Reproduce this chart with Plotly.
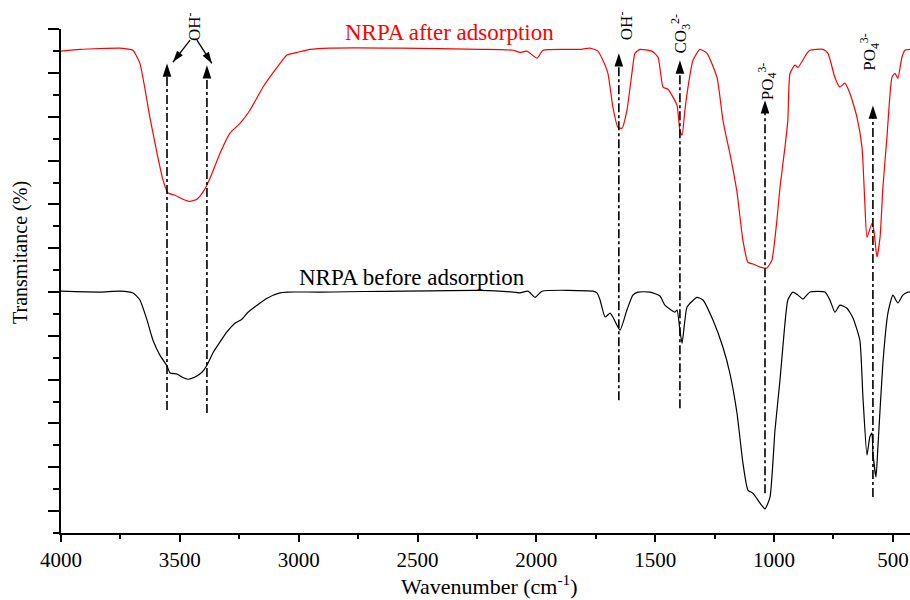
import plotly.graph_objects as go

# ---------------- data ----------------
wn_after = [4000, 3920, 3836, 3752, 3710, 3697, 3668, 3626, 3596, 3571, 3550, 3520, 3487, 3457, 3428,
            3403, 3373, 3331, 3289, 3247, 3205, 3150, 3091, 3049, 3007, 2952, 2868, 2574, 2237, 2098,
            2069, 2040, 1997, 1972, 1817, 1775, 1741, 1720, 1699, 1678, 1657, 1640, 1619, 1598, 1585,
            1564, 1514, 1488, 1467, 1446, 1425, 1408, 1396, 1387, 1375, 1362, 1341, 1312, 1282, 1240,
            1215, 1198, 1186, 1156, 1131, 1110, 1089, 1059, 1030, 1009, 988, 975, 954, 942, 933,
            912, 899, 862, 849, 794, 773, 744, 723, 702, 681, 651, 630, 618, 609, 588,
            580, 567, 554, 542, 525, 504, 491, 479, 462, 449, 428]
t_after = [110.0, 110.4, 110.6, 110.7, 110.4, 110.2, 107.2, 94.9, 86.7, 80.6, 77.6, 77.1, 76.2, 75.7, 76.2,
           77.8, 81.0, 86.7, 91.3, 93.5, 96.5, 101.8, 106.3, 109.1, 109.7, 110.4, 110.7, 110.7, 110.4, 110.2,
           109.7, 110.0, 108.4, 110.2, 110.4, 110.7, 110.0, 107.9, 104.9, 97.2, 92.6, 92.4, 96.5, 104.9, 109.5,
           110.4, 110.0, 108.6, 101.8, 101.3, 99.5, 97.6, 91.9, 90.8, 96.5, 101.8, 107.9, 110.4, 109.5, 104.0,
           94.2, 89.7, 86.7, 77.8, 66.8, 61.8, 61.4, 60.7, 60.5, 62.3, 71.4, 78.9, 88.1, 94.2, 104.9,
           106.8, 106.3, 109.5, 110.2, 110.4, 109.5, 104.0, 101.8, 102.7, 100.4, 94.9, 88.1, 75.3, 67.5, 70.7,
           69.1, 63.0, 67.5, 78.9, 90.3, 104.0, 104.9, 103.8, 108.6, 110.2, 110.4]

wn_before = [4000, 3836, 3752, 3697, 3668, 3638, 3613, 3584, 3554, 3541, 3512, 3491, 3466, 3436, 3407,
             3386, 3361, 3331, 3302, 3268, 3239, 3213, 3175, 3133, 3079, 3049, 2910, 2237, 2098, 2069,
             2035, 2006, 1976, 1762, 1745, 1732, 1711, 1690, 1678, 1648, 1619, 1594, 1573, 1522, 1480,
             1459, 1417, 1408, 1396, 1387, 1375, 1366, 1324, 1299, 1257, 1215, 1186, 1156, 1131, 1110,
             1089, 1059, 1038, 1017, 996, 975, 963, 942, 921, 899, 878, 849, 786, 765, 744,
             723, 693, 668, 639, 626, 609, 597, 588, 584, 571, 563, 542, 521, 500, 479,
             458, 437, 428]
t_before = [55.2, 55.0, 55.2, 54.8, 53.2, 48.6, 44.0, 40.6, 38.1, 36.5, 36.3, 35.6, 35.1, 35.6, 36.7,
            38.3, 41.1, 43.6, 45.9, 47.9, 48.8, 50.4, 52.0, 53.6, 54.8, 55.0, 55.0, 55.4, 55.0, 54.8,
            55.2, 53.8, 55.2, 55.2, 54.8, 53.2, 49.3, 50.2, 49.3, 46.3, 50.9, 54.3, 55.0, 55.0, 54.1,
            52.0, 50.4, 50.9, 46.3, 43.3, 48.6, 51.6, 53.8, 53.2, 48.6, 42.4, 36.5, 27.4, 16.0, 9.8,
            9.1, 6.8, 5.5, 8.2, 23.5, 34.9, 42.4, 53.2, 55.0, 54.3, 53.4, 55.0, 55.0, 53.2, 50.4,
            52.0, 51.3, 49.1, 44.0, 31.0, 17.8, 21.9, 22.8, 18.3, 12.8, 19.6, 38.8, 50.2, 54.3, 52.5,
            54.3, 55.0, 55.0]

x_tick_vals = [4000, 3500, 3000, 2500, 2000, 1500, 1000, 500]
x_tick_text = ["4000", "3500", "3000", "2500", "2000", "1500", "1000", "500"]

series_names = ["NRPA after adsorption", "NRPA before adsorption"]
series_label_wn = [2364, 2523]
series_label_t = [114.3, 58.4]

# band guide lines (dash-dot with arrow at the top)
band_wn = [3554, 3386, 1653, 1396, 1038, 584]
band_top = [107.2, 106.8, 109.5, 107.9, 98.8, 97.6]
band_bottom = [28.1, 27.4, 30.3, 28.5, 9.1, 8.2]

# band labels
band_label_text = ["OH<sup>-</sup>", "OH<sup>-</sup>", "CO<sub>3</sub><sup>2-</sup>",
                   "PO<sub>4</sub><sup>3-</sup>", "PO<sub>4</sub><sup>3-</sup>"]
band_label_wn = [3445, 1627, 1392, 1030, 597]
band_label_t = [115.7, 115.7, 114.0, 103.1, 109.8]

# the two diagonal arrows from the OH- label (tail -> head)
oh_tail_wn = [3457, 3428]
oh_tail_t = [112.5, 112.5]
oh_head_wn = [3529, 3365]
oh_head_t = [107.5, 107.2]
oh_head_angle = [218, 147]

Y_MAX = 115.05
FONT = "Liberation Serif, Times New Roman, serif"

fig = go.Figure()
fig.add_trace(go.Scatter(x=wn_after, y=t_after, mode="lines",
                         line=dict(color="#ff0000", width=1.2, shape="spline", smoothing=0.5),
                         name=series_names[0], hoverinfo="skip"))
fig.add_trace(go.Scatter(x=wn_before, y=t_before, mode="lines",
                         line=dict(color="#000000", width=1.2, shape="spline", smoothing=0.5),
                         name=series_names[1], hoverinfo="skip"))

shapes = []
for w, top, bot in zip(band_wn, band_top, band_bottom):
    shapes.append(dict(type="line", xref="x", yref="y", x0=w, x1=w, y0=bot, y1=top - 1.5,
                       line=dict(color="black", width=1.6, dash="dashdot")))
for tw, tt, hw, ht in zip(oh_tail_wn, oh_tail_t, oh_head_wn, oh_head_t):
    shapes.append(dict(type="line", xref="x", yref="y", x0=tw, x1=hw, y0=tt, y1=ht,
                       line=dict(color="black", width=1.3)))

# arrow heads
fig.add_trace(go.Scatter(x=band_wn, y=band_top, mode="markers", hoverinfo="skip",
                         marker=dict(symbol="arrow", size=14, angle=0, color="black",
                                     line=dict(width=0))))
fig.add_trace(go.Scatter(x=oh_head_wn, y=oh_head_t, mode="markers", hoverinfo="skip",
                         marker=dict(symbol="arrow", size=12, angle=oh_head_angle, color="black",
                                     line=dict(width=0))))

annotations = []
for txt, w, t in zip(band_label_text, band_label_wn, band_label_t):
    annotations.append(dict(x=w, y=t / Y_MAX, xref="x", yref="paper", text=txt, showarrow=False,
                            textangle=-90, font=dict(family=FONT, size=17, color="black"),
                            xanchor="center", yanchor="middle"))

for name, w, t, col in zip(series_names, series_label_wn, series_label_t, ["#ff0000", "#000000"]):
    annotations.append(dict(x=w, y=t, xref="x", yref="y", text=name, showarrow=False,
                            font=dict(family=FONT, size=23, color=col),
                            xanchor="center", yanchor="middle"))

annotations.append(dict(x=0.505, y=-0.104, xref="paper", yref="paper",
                        text="Wavenumber (cm<sup>-1</sup>)", showarrow=False,
                        font=dict(family=FONT, size=22, color="black"),
                        xanchor="center", yanchor="middle"))
annotations.append(dict(x=-0.0483, y=0.5575, xref="paper", yref="paper",
                        text="Transmitance (%)", showarrow=False, textangle=-90,
                        font=dict(family=FONT, size=20, color="black"),
                        xanchor="center", yanchor="middle"))

minor_x = [(a + b) / 2 for a, b in zip(x_tick_vals[:-1], x_tick_vals[1:])]

fig.update_layout(
    width=910, height=600,
    margin=dict(l=61, r=0, t=29, b=67, autoexpand=False),
    plot_bgcolor="white", paper_bgcolor="white",
    showlegend=False,
    annotations=annotations,
    shapes=shapes,
    xaxis=dict(range=[4000, 428], tickmode="array", tickvals=x_tick_vals, ticktext=x_tick_text,
               ticks="outside", ticklen=7, tickwidth=2, tickcolor="black",
               showline=True, linewidth=2, linecolor="black",
               showgrid=False, zeroline=False, automargin=False,
               tickfont=dict(family=FONT, size=21, color="black"),
               minor=dict(tickmode="array", tickvals=minor_x, ticks="outside", ticklen=4,
                          tickwidth=2, tickcolor="black", showgrid=False)),
    yaxis=dict(range=[0, Y_MAX], tickmode="linear", tick0=5, dtick=10,
               ticks="outside", ticklen=11, tickwidth=2, tickcolor="black",
               showticklabels=False, automargin=False,
               showline=True, linewidth=2, linecolor="black",
               showgrid=False, zeroline=False,
               minor=dict(tickmode="linear", tick0=0, dtick=10, ticks="outside", ticklen=6,
                          tickwidth=2, tickcolor="black", showgrid=False)),
)

fig.write_html("out.html",
               config={"displayModeBar": False, "staticPlot": True},
               post_script="document.body.style.margin='0';document.body.style.overflow='hidden';")
